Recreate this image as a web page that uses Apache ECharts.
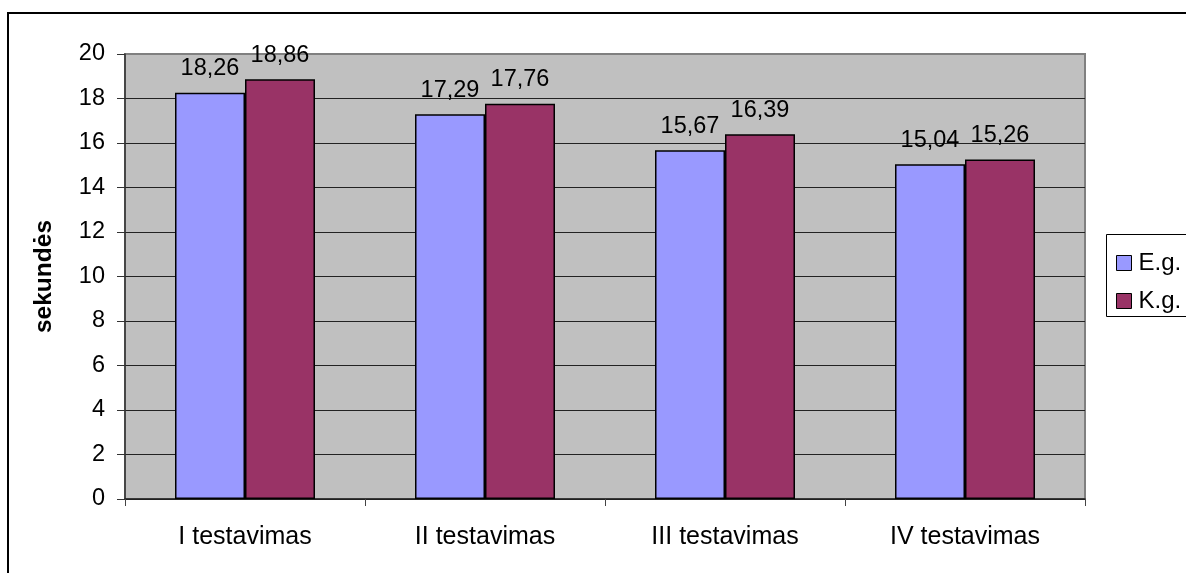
<!DOCTYPE html>
<html>
<head>
<meta charset="utf-8">
<script src="https://cdn.jsdelivr.net/npm/echarts@6/dist/echarts.min.js"></script>
<style>
  html, body { margin: 0; padding: 0; background: #fff; }
  #chart { width: 1186px; height: 573px; }
</style>
</head>
<body>
<div id="chart"></div>
<script>
// Test rounds and group results (seconds)
const categories = ['I testavimas', 'II testavimas', 'III testavimas', 'IV testavimas'];
const seriesNames = ['E.g.', 'K.g.'];
const egValues = [18.26, 17.29, 15.67, 15.04];
const kgValues = [18.86, 17.76, 16.39, 15.26];
const yTicks = { min: 0, max: 20, interval: 2 };
const yAxisTitle = 'sekundės';

const FONT = '"Liberation Sans", Arial, sans-serif';
const chart = echarts.init(document.getElementById('chart'), null, { renderer: 'canvas' });

const barLabel = {
  show: true,
  position: 'top',
  distance: 12,
  color: '#000',
  fontFamily: FONT,
  fontSize: 23.5,
  formatter: p => p.value.toFixed(2).replace('.', ',')
};

chart.setOption({
  animation: false,
  backgroundColor: '#fff',
  textStyle: { fontFamily: FONT },
  graphic: [
    {
      type: 'rect',
      shape: { x: 8, y: 13, width: 1400, height: 800 },
      style: { fill: 'none', stroke: '#000', lineWidth: 2 },
      silent: true,
      z: -10
    },
    {
      type: 'rect',
      shape: { x: 1106.5, y: 234.5, width: 200, height: 82 },
      style: { fill: '#fff', stroke: '#000', lineWidth: 1 },
      silent: true,
      z: 0
    }
  ],
  legend: {
    data: seriesNames,
    orient: 'vertical',
    left: 1116,
    top: 251,
    padding: 0,
    itemWidth: 15,
    itemHeight: 15,
    itemGap: 14,
    icon: 'rect',
    z: 10,
    textStyle: { fontFamily: FONT, fontSize: 24, color: '#000', lineHeight: 22, padding: [0, 0, 0, 2] },
    itemStyle: { borderColor: '#000', borderWidth: 1 }
  },
  grid: {
    left: 125,
    top: 54,
    width: 960,
    height: 445,
    show: true,
    backgroundColor: '#C0C0C0',
    borderColor: '#808080',
    borderWidth: 2
  },
  xAxis: {
    type: 'category',
    data: categories,
    axisLine: { show: true, lineStyle: { color: '#222', width: 1.5 } },
    axisTick: { show: true, length: 7, lineStyle: { color: '#444' } },
    axisLabel: { fontFamily: FONT, fontSize: 25, color: '#000', margin: 26 }
  },
  yAxis: {
    type: 'value',
    min: yTicks.min,
    max: yTicks.max,
    interval: yTicks.interval,
    name: yAxisTitle,
    nameLocation: 'middle',
    nameRotate: 90,
    nameGap: 68,
    nameTextStyle: { fontFamily: FONT, fontSize: 24.5, fontWeight: 'bold', color: '#000' },
    axisLine: { show: true, lineStyle: { color: '#333', width: 1.5 } },
    axisTick: { show: true, length: 8, lineStyle: { color: '#333' } },
    axisLabel: { fontFamily: FONT, fontSize: 23.5, color: '#000', margin: 20 },
    splitLine: { show: true, showMaxLine: false, lineStyle: { color: '#222', width: 1 } }
  },
  series: [
    {
      name: seriesNames[0],
      type: 'bar',
      data: egValues,
      barWidth: 70,
      barGap: '0%',
      itemStyle: { color: '#9999FF', borderColor: '#000', borderWidth: 1.5 },
      label: barLabel
    },
    {
      name: seriesNames[1],
      type: 'bar',
      data: kgValues,
      barWidth: 70,
      barGap: '0%',
      itemStyle: { color: '#993366', borderColor: '#000', borderWidth: 1.5 },
      label: barLabel
    }
  ]
});
</script>
</body>
</html>
